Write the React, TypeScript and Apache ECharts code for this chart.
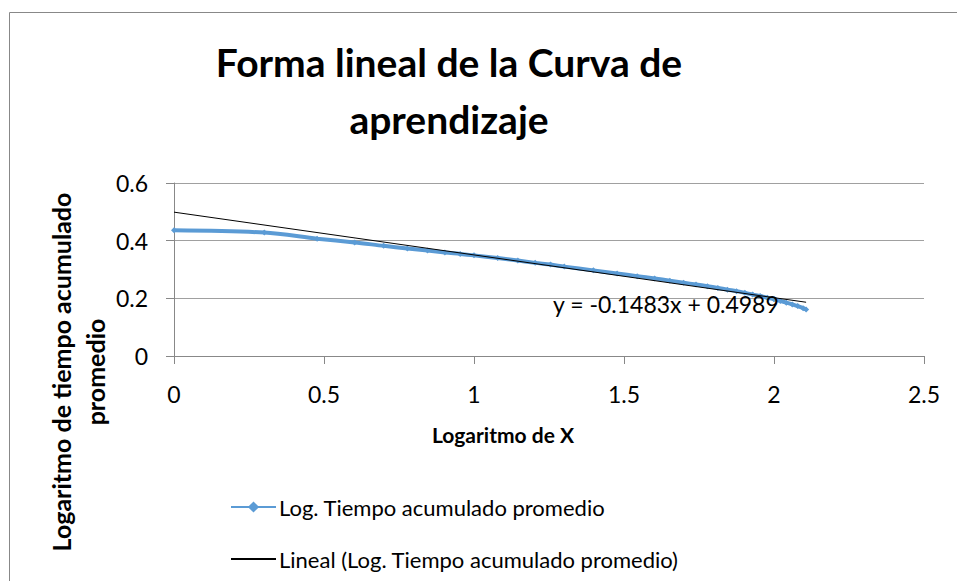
import React, { useEffect, useRef } from "react";
import * as echarts from "echarts";

// x = log10(unit number), y = log10(average cumulative time)
const logX: number[] = [
  0, 0.301, 0.477, 0.602, 0.699, 0.778, 0.845, 0.903, 0.954, 1.0,
  1.079, 1.146, 1.204, 1.255, 1.301, 1.398, 1.477, 1.544, 1.602, 1.653,
  1.699, 1.74, 1.778, 1.813, 1.845, 1.875, 1.903, 1.929, 1.954, 1.978,
  2.0, 2.021, 2.041, 2.061, 2.079, 2.097, 2.107,
];
const logTiempo: number[] = [
  0.436, 0.428, 0.407, 0.394, 0.382, 0.373, 0.366, 0.359, 0.354, 0.349,
  0.34, 0.331, 0.323, 0.317, 0.31, 0.297, 0.286, 0.277, 0.269, 0.261,
  0.254, 0.248, 0.242, 0.236, 0.23, 0.225, 0.219, 0.213, 0.208, 0.202,
  0.197, 0.191, 0.185, 0.179, 0.173, 0.166, 0.161,
];
const trendSlope = -0.1483;
const trendIntercept = 0.4989;
const xTicks = { min: 0, max: 2.5, interval: 0.5 };
const yTicks = { min: 0, max: 0.6, interval: 0.2 };

const seriesName = "Log. Tiempo acumulado promedio";
const trendName = "Lineal (Log. Tiempo acumulado promedio)";
const titleLines = ["Forma lineal de la Curva de", "aprendizaje"];
const xTitle = "Logaritmo de X";
const yTitleLines = ["Logaritmo de tiempo acumulado", "promedio"];
const equation = "y = -0.1483x + 0.4989";

const FONT = "Lato";

export default function App() {
  const ref = useRef<HTMLDivElement>(null);
  useEffect(() => {
    if (!ref.current) return;
    const chart = echarts.init(ref.current, undefined, { renderer: "svg" });
    const data = logX.map((x, i) => [x, logTiempo[i]]);
    const x0 = logX[0];
    const x1 = logX[logX.length - 1];
    const trend = [
      [x0, trendIntercept + trendSlope * x0],
      [x1, trendIntercept + trendSlope * x1],
    ];
    const legendBase = {
      orient: "vertical",
      left: 230,
      padding: 0,
      itemWidth: 45,
      itemHeight: 14,
      itemGap: 4,
      textStyle: { color: "#000", fontSize: 22, fontFamily: FONT, padding: [0, 0, 0, -2] },
    };
    chart.setOption({
      animation: false,
      backgroundColor: "#ffffff",
      textStyle: { fontFamily: FONT },
      grid: { left: 174, right: 33, top: 183, bottom: 225, containLabel: false },
      xAxis: {
        type: "value",
        min: xTicks.min,
        max: xTicks.max,
        interval: xTicks.interval,
        axisLine: { show: true, lineStyle: { color: "#888888", width: 1 } },
        axisTick: { show: true, length: 8, lineStyle: { color: "#888888" } },
        splitLine: { show: false },
        axisLabel: { color: "#000", fontSize: 23, fontFamily: FONT, margin: 26 },
      },
      yAxis: {
        type: "value",
        min: yTicks.min,
        max: yTicks.max,
        interval: yTicks.interval,
        axisLine: { show: true, lineStyle: { color: "#888888", width: 1 } },
        axisTick: { show: true, length: 8, lineStyle: { color: "#888888" } },
        splitLine: { show: true, lineStyle: { color: "#a0a0a0", width: 1 } },
        axisLabel: { color: "#000", fontSize: 23, fontFamily: FONT, margin: 26 },
      },
      legend: [
        { ...legendBase, top: 496, data: [seriesName] },
        {
          ...legendBase,
          top: 548,
          data: [{ name: trendName, itemStyle: { opacity: 0 } }],
        },
      ],
      series: [
        {
          name: seriesName,
          type: "line",
          data,
          smooth: 0.3,
          symbol: "diamond",
          symbolSize: 6,
          showSymbol: true,
          itemStyle: { color: "#5B9BD5" },
          lineStyle: { color: "#5B9BD5", width: 4 },
          z: 2,
        },
        {
          name: trendName,
          type: "line",
          data: trend,
          symbol: "none",
          itemStyle: { color: "#000" },
          lineStyle: { color: "#000", width: 1 },
          z: 3,
        },
      ],
      graphic: [
        {
          type: "rect",
          shape: { x: 9.5, y: 12.5, width: 1200, height: 1200 },
          style: { fill: "none", stroke: "#888888", lineWidth: 1 },
          z: -10,
          silent: true,
        },
        {
          type: "text",
          x: 449,
          y: 62,
          style: {
            text: titleLines[0],
            fontFamily: FONT,
            fontWeight: "bold",
            fontSize: 39,
            fill: "#000",
            textAlign: "center",
            textVerticalAlign: "middle",
          },
        },
        {
          type: "text",
          x: 449,
          y: 119,
          style: {
            text: titleLines[1],
            fontFamily: FONT,
            fontWeight: "bold",
            fontSize: 39,
            fill: "#000",
            textAlign: "center",
            textVerticalAlign: "middle",
          },
        },
        {
          type: "text",
          x: 503,
          y: 434,
          style: {
            text: xTitle,
            fontFamily: FONT,
            fontWeight: "bold",
            fontSize: 21,
            fill: "#000",
            textAlign: "center",
            textVerticalAlign: "middle",
          },
        },
        {
          type: "text",
          x: 61,
          y: 372,
          rotation: Math.PI / 2,
          style: {
            text: yTitleLines[0],
            fontFamily: FONT,
            fontWeight: "bold",
            fontSize: 25,
            fill: "#000",
            textAlign: "center",
            textVerticalAlign: "middle",
          },
        },
        {
          type: "text",
          x: 95,
          y: 372,
          rotation: Math.PI / 2,
          style: {
            text: yTitleLines[1],
            fontFamily: FONT,
            fontWeight: "bold",
            fontSize: 25,
            fill: "#000",
            textAlign: "center",
            textVerticalAlign: "middle",
          },
        },
        {
          type: "text",
          x: 553,
          y: 304,
          style: {
            text: equation,
            fontFamily: FONT,
            fontSize: 23,
            fill: "#000",
            textAlign: "left",
            textVerticalAlign: "middle",
          },
          z: 10,
        },
      ],
    });
    return () => chart.dispose();
  }, []);
  return (
    <div
      ref={ref}
      style={{ position: "fixed", left: 0, top: 0, width: 957, height: 581, background: "#fff" }}
    />
  );
}
